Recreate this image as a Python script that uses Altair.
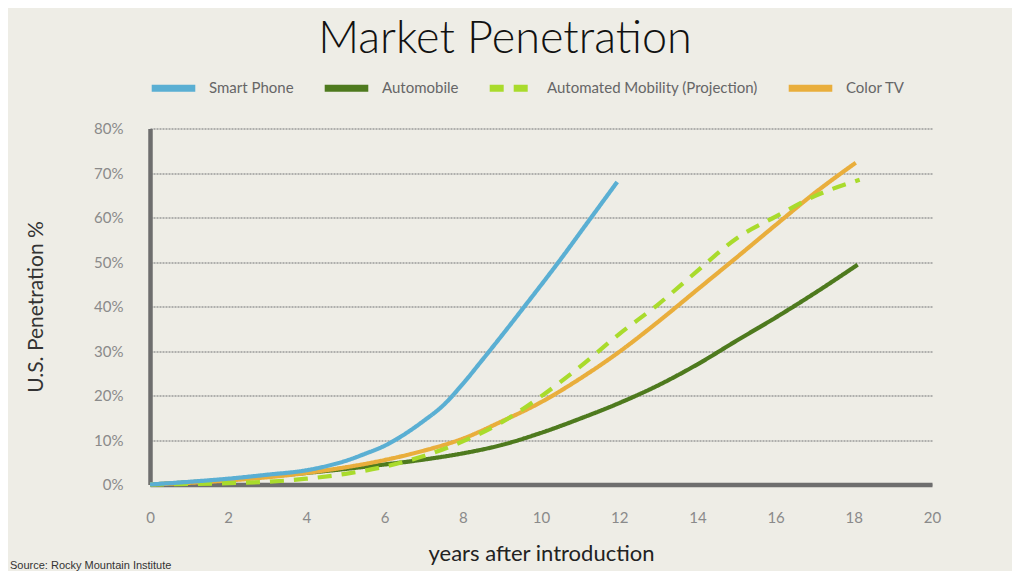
import altair as alt
import pandas as pd

series_order = ["Smart Phone", "Automobile", "Automated Mobility (Projection)", "Color TV"]
series_colors = ["#5AAFD3", "#4E7A1E", "#A9DB2C", "#E9AE3C"]

phone_years = [0, 1, 2, 3, 4, 4.5, 5, 5.5, 6, 6.27, 7, 7.5, 8, 8.5, 9, 9.55, 10.45, 11.2, 11.6, 11.95]
phone_pct = [0, 0.6, 1.3, 2.2, 3.2, 4.1, 5.3, 6.9, 8.7, 10, 14.3, 17.8, 22.6, 28, 33.5, 39.7, 50, 59, 63.8, 68]

auto_years = [0, 1, 2, 3, 4, 5, 6, 7, 8, 9, 10, 11, 12, 13, 14, 15, 16, 17, 18.1]
auto_pct = [0, 0.5, 1.1, 1.8, 2.6, 3.5, 4.5, 5.6, 7, 8.9, 11.6, 14.8, 18.3, 22.3, 27, 32.3, 37.5, 43, 49.4]

am_years = [0, 2, 3, 4, 5, 6, 7, 8, 9, 10, 11, 12, 13, 14, 15, 16, 17, 18.15]
am_pct = [0, 0.3, 0.6, 1.3, 2.4, 4, 6.4, 9.7, 14, 19.8, 26.5, 33.8, 40.5, 48, 55.3, 60.2, 64.8, 68.5]

tv_years = [0, 2, 4, 6, 7, 8, 9, 10, 11, 12, 13, 14, 15, 16, 17, 18.05]
tv_pct = [0, 0.9, 2.6, 5.5, 7.6, 10.3, 14.2, 18.5, 23.8, 29.8, 36.6, 43.8, 51, 58.3, 65.5, 72.3]

x_ticks = [0, 2, 4, 6, 8, 10, 12, 14, 16, 18, 20]
y_ticks = [0, 10, 20, 30, 40, 50, 60, 70, 80]

title_text = "Market Penetration"
x_title = "years after introduction"
y_title = "U.S. Penetration %"
source_text = "Source: Rocky Mountain Institute"

frames = []
draw_order = [
    ("Automobile", auto_years, auto_pct, 1),
    ("Color TV", tv_years, tv_pct, 2),
    ("Automated Mobility (Projection)", am_years, am_pct, 3),
    ("Smart Phone", phone_years, phone_pct, 4),
]
for name, xs, ys, z in draw_order:
    frames.append(pd.DataFrame({"series": name, "year": xs, "pct": ys, "z": z}))
df = pd.concat(frames, ignore_index=True)

bg = "#EEEDE6"
font = "Lato"

legend = alt.Legend(orient="none", legendX=-2, legendY=-66, direction="horizontal",
                    symbolType="stroke", symbolSize=1900, symbolStrokeWidth=7,
                    labelFont=font, labelFontSize=15, labelColor="#666666",
                    labelOffset=10, columnPadding=16, labelLimit=400)

lines = alt.Chart(df).mark_line(strokeWidth=4.2, interpolate="monotone", strokeCap="butt").encode(
    x=alt.X("year:Q", scale=alt.Scale(domain=[0, 20], nice=False),
            axis=alt.Axis(values=x_ticks, title=x_title, grid=False, ticks=False,
                          labelFlush=False, labelPadding=26, titlePadding=18,
                          titleFontSize=22, titleFontWeight=400, titleColor="#222222")),
    y=alt.Y("pct:Q", scale=alt.Scale(domain=[0, 80], nice=False),
            axis=alt.Axis(values=y_ticks, title=y_title, grid=True, ticks=False,
                          labelFlush=False, labelExpr="datum.value + '%'", labelPadding=27,
                          titlePadding=47, titleFontSize=21, titleFontWeight=400,
                          titleColor="#333333")),
    color=alt.Color("series:N", scale=alt.Scale(domain=series_order, range=series_colors),
                    sort=series_order, title=None, legend=legend),
    strokeDash=alt.StrokeDash("series:N",
                              scale=alt.Scale(domain=series_order,
                                              range=[[1, 0], [1, 0], [14, 10], [1, 0]]),
                              sort=series_order, title=None, legend=legend),
    detail="series:N",
    order="z:Q",
)

src = alt.Chart(pd.DataFrame({"t": [source_text]})).mark_text(
    align="left", baseline="alphabetic", font="Liberation Sans", fontSize=11, color="#333333"
).encode(x=alt.value(-140), y=alt.value(440), text="t:N")

chart = alt.layer(lines, src).properties(
    width=782,
    height=356,
    autosize=alt.AutoSizeParams(type="none"),
    padding={"left": 142, "top": 120.5, "right": 80, "bottom": 86},
    background=bg,
    title=alt.TitleParams(title_text, font=font, fontSize=45, fontWeight=300,
                          color="#111111", anchor="middle", dx=-36, offset=1),
).configure_view(
    stroke=None, fill=bg
).configure_axis(
    labelFont=font, labelFontSize=15, labelColor="#8a8a8a", titleFont=font,
    domainColor="#6e6e6e", domainWidth=4.5, gridColor="#9a9a9a", gridDash=[2, 1],
    gridWidth=1.4,
)

chart.save("out.html", embed_options={"renderer": "svg", "actions": False})
